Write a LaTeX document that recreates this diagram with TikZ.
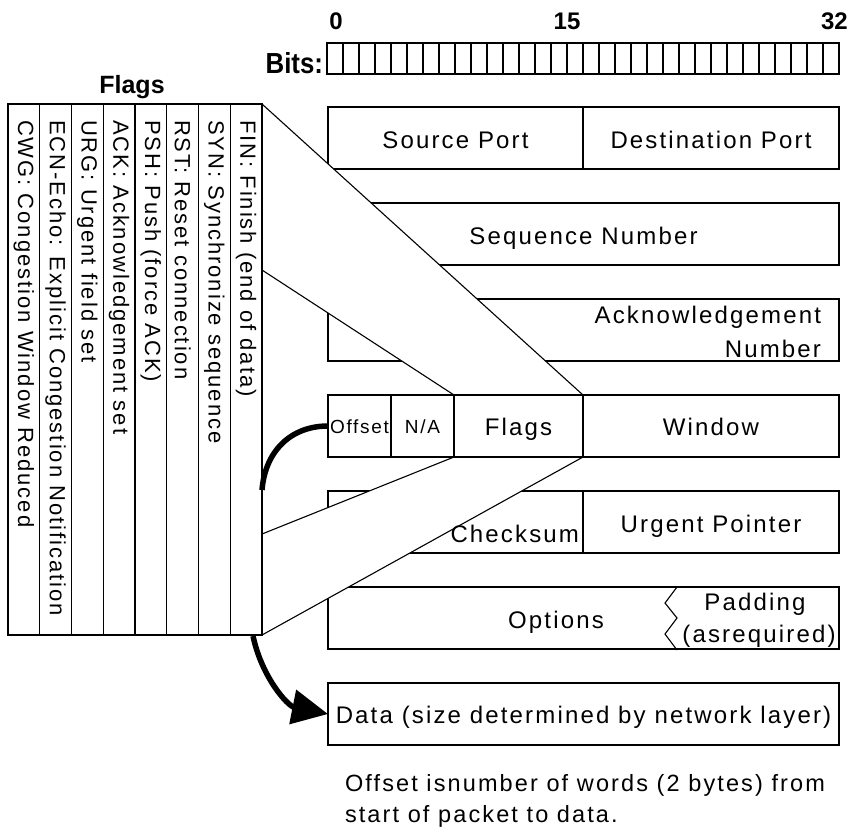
\documentclass[tikz,border=0pt]{standalone}
\usepackage{fontspec}
\setmainfont{Liberation Sans}
\newfontfamily\rowfont[LetterSpace=9]{Liberation Sans}
\usetikzlibrary{arrows.meta}

\begin{document}
\begin{tikzpicture}[x=1pt,y=-1pt,
  cell/.style={draw=black, line width=1.3pt, fill=white, minimum height=62pt, inner sep=0pt, outer sep=0pt, anchor=north west},
  flagcol/.style={draw=black, line width=1.3pt, fill=white, minimum width=31.75pt, minimum height=531pt, inner sep=0pt, outer sep=0pt, anchor=north west},
  txt/.style={inner sep=0pt, outer sep=0pt, font=\rowfont\fontsize{24}{28}\selectfont},
  smalltxt/.style={inner sep=0pt, outer sep=0pt, font=\rowfont\fontsize{19}{22}\selectfont},
  notetxt/.style={inner sep=0pt, outer sep=0pt, font=\rowfont\fontsize{23.5}{27}\selectfont},
  ftxt/.style={inner sep=0pt, outer sep=0pt, rotate=-90, anchor=west, font=\rowfont\fontsize{22}{24}\selectfont},
  hdr/.style={inner sep=0pt, outer sep=0pt, font=\bfseries\fontsize{24}{28}\selectfont},
  wedgeline/.style={line width=1.1pt},
  bigarc/.style={line width=5.5pt}
]
\useasboundingbox (0,0) rectangle (856,831);
\fill[white] (0,0) rectangle (856,831);

% bits ruler
\node[draw, line width=1.3pt, minimum width=512pt, minimum height=31pt, inner sep=0pt, outer sep=0pt, anchor=north west] (bits) at (327,43) {};
\foreach \i in {1,...,31}
  \draw[line width=1.1pt] ([xshift={16*\i}]bits.north west) -- ([xshift={16*\i}]bits.south west);
\node[hdr, anchor=base east, xscale=0.89, font=\bfseries\fontsize{29}{32}\selectfont] (bitslbl) at (323,73) {Bits:};
\node[hdr, anchor=base] (b0) at (336,29) {0};
\node[hdr, anchor=base] (b15) at (567,29) {15};
\node[hdr, anchor=base west] (b32) at (821,29) {32};

% rows (frames)
\node[cell, minimum width=255pt] (sp) at (328,107) {};
\node[cell, minimum width=256pt] (dp) at (583,107) {};
\node[cell, minimum width=511pt] (seq) at (328,203) {};
\node[cell, minimum width=511pt] (ack) at (328,299) {};
\node[cell, minimum width=255pt] (ck) at (328,491) {};
\node[cell, minimum width=256pt] (up) at (583,491) {};
\node[cell, minimum width=511pt] (opt) at (328,587) {};
\node[cell, minimum width=511pt] (data) at (328,683) {};

% flags panel geometry
\node[inner sep=0pt, outer sep=0pt, minimum width=254pt, minimum height=531pt, anchor=north west] (panel) at (8,104) {};
\coordinate (pTR) at (262,104);
\coordinate (pBR) at (262,635);
\coordinate (w1) at (262,270);
\coordinate (w2) at (262,534);
\coordinate (flTL) at (454,395);
\coordinate (flTR) at (583,395);
\coordinate (flBL) at (454,457);
\coordinate (flBR) at (583,457);

% wedges (white, over rows)
\fill[white] (pTR) -- (flTR) -- (flTL) -- (w1) -- cycle;
\draw[wedgeline] (pTR) -- (flTR);
\draw[wedgeline] (w1) -- (flTL);
\fill[white] (flBL) -- (flBR) -- (pBR) -- (w2) -- cycle;
\draw[wedgeline] (flBL) -- (w2);
\draw[wedgeline] (flBR) -- (pBR);

% row 4
\node[cell, minimum width=63pt] (off) at (328,395) {};
\node[cell, minimum width=63pt] (na) at (391,395) {};
\node[cell, minimum width=129pt] (fl) at (454,395) {};
\node[cell, minimum width=256pt] (win) at (583,395) {};

% flag columns
\foreach \i/\t in {0/{CWG: Congestion Window Reduced},
                   1/{ECN-Echo: Explicit Congestion Notification},
                   2/{URG: Urgent field set},
                   3/{ACK: Acknowledgement set},
                   4/{PSH: Push (force ACK)},
                   5/{RST: Reset connection},
                   6/{SYN: Synchronize sequence},
                   7/{FIN: Finish (end of data)}} {
  \node[flagcol] (c\i) at ({8+31.75*\i},104) {};
  \node[ftxt] (ct\i) at ({8+31.75*\i+15.875},120) {\t};
}
\node[hdr, anchor=base, font=\bfseries\fontsize{25}{28}\selectfont] (ftitle) at (132,93) {Flags};

% texts
\node[txt, anchor=base] (tsp) at (455.5,148) {Source Port};
\node[txt, anchor=base] (tdp) at (711,148) {Destination Port};
\node[txt, anchor=base] (tseq) at (583.5,244) {Sequence Number};
\node[txt, anchor=base east] (tack1) at (821,323) {Acknowledgement};
\node[txt, anchor=base east] (tack2) at (821,357) {Number};
\node[smalltxt, anchor=base] (toff) at (359.5,433) {Offset};
\node[smalltxt, anchor=base] (tna) at (422.5,433) {N/A};
\node[txt, anchor=base] (tfl) at (518.5,435) {Flags};
\node[txt, anchor=base] (twin) at (711,435) {Window};
\node[txt, anchor=base east] (tck) at (579,542) {Checksum};
\node[txt, anchor=base] (tup) at (711,532) {Urgent Pointer};
\node[txt, anchor=base] (topt) at (556,628) {Options};
\draw[line width=1.1pt] (677,587) -- (665,603) -- (677,618) -- (665,634) -- (677,650);
\node[txt, anchor=base] (tpad) at (755,610) {Padding};
\node[txt, anchor=base] (treq) at (759,642) {(asrequired)};
\node[txt, anchor=base] (tdata) at (583.5,723) {Data (size determined by network layer)};
\node[notetxt, anchor=base west] (note1) at (345,791) {Offset isnumber of words (2 bytes) from};
\node[notetxt, anchor=base west] (note2) at (345,822) {start of packet to data.};

% thick arcs
\coordinate (arcA) at (262,490);
\draw[bigarc] (arcA) .. controls (265,452) and (290,426) .. (off.west);
\coordinate (arcB) at (253,636);
\draw[bigarc, -{Triangle[length=36pt,width=34pt]}] (arcB) .. controls (262,678) and (288,706) .. (data.west);
\end{tikzpicture}
\end{document}
